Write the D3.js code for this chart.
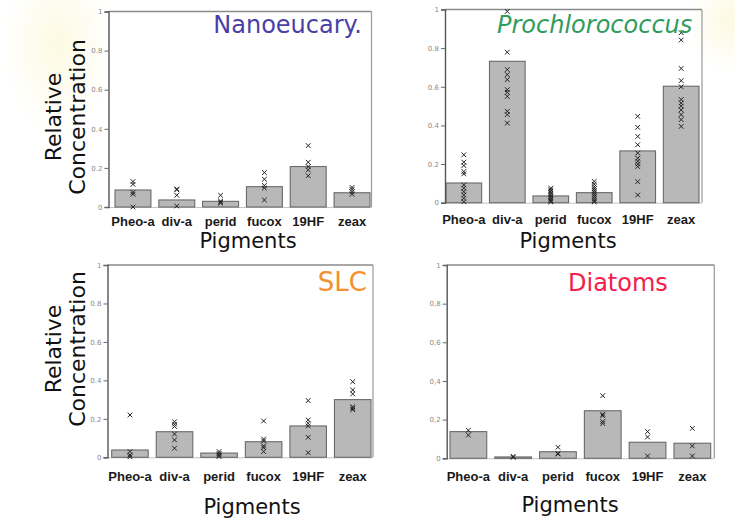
<!DOCTYPE html>
<html>
<head>
<meta charset="utf-8">
<script src="https://cdn.jsdelivr.net/npm/d3@7"></script>
<style>
  html, body { margin: 0; padding: 0; background: #ffffff; }
  svg { display: block; }
</style>
</head>
<body>
<svg id="chart" width="735" height="527"></svg>
<script>
// Pigment categories shared by all four panels
const pigments = ["Pheo-a", "div-a", "perid", "fucox", "19HF", "zeax"];
const yTickValues = [0, 0.2, 0.4, 0.6, 0.8, 1];
const yTickLabelsDot = ["0", "0.2", "0.4", "0.6", "0.8", "1"];
const yTickLabelsComma = ["0", "0,2", "0,4", "0,6", "0,8", "1"];

// Mean relative concentration (bars) and individual samples (crosses)
const nanoMeans = [0.087, 0.036, 0.029, 0.104, 0.207, 0.073];
const nanoSamples = [
  [0.13, 0.116, 0.075, 0.065, 0.0],
  [0.092, 0.088, 0.06, 0.005],
  [0.06, 0.03, 0.025, 0.02],
  [0.176, 0.142, 0.11, 0.097, 0.036],
  [0.314, 0.229, 0.207, 0.19, 0.16],
  [0.1, 0.09, 0.078, 0.065]
];

const prochMeans = [0.102, 0.732, 0.035, 0.052, 0.268, 0.603];
const prochSamples = [
  [0.248, 0.21, 0.192, 0.161, 0.149, 0.092, 0.075, 0.057, 0.04, 0.023, 0.005],
  [0.99, 0.779, 0.689, 0.663, 0.637, 0.585, 0.571, 0.55, 0.473, 0.456, 0.412],
  [0.075, 0.066, 0.058, 0.05, 0.042, 0.034, 0.026, 0.018, 0.01, 0.004],
  [0.11, 0.096, 0.083, 0.072, 0.062, 0.052, 0.042, 0.032, 0.022, 0.012, 0.004],
  [0.447, 0.39, 0.343, 0.3, 0.257, 0.23, 0.215, 0.2, 0.187, 0.109, 0.04],
  [0.88, 0.842, 0.695, 0.632, 0.6, 0.534, 0.516, 0.5, 0.48, 0.456, 0.43, 0.395]
];

const slcMeans = [0.038, 0.133, 0.022, 0.081, 0.163, 0.30];
const slcSamples = [
  [0.22, 0.03, 0.012, 0.003],
  [0.185, 0.172, 0.16, 0.121, 0.09, 0.047],
  [0.03, 0.02, 0.012, 0.004],
  [0.189, 0.095, 0.085, 0.059, 0.05, 0.03],
  [0.295, 0.194, 0.177, 0.163, 0.104, 0.024],
  [0.393, 0.35, 0.33, 0.263, 0.255, 0.247]
];

const diatomMeans = [0.138, 0.007, 0.034, 0.246, 0.083, 0.078];
const diatomSamples = [
  [0.145, 0.12],
  [0.01, 0.005],
  [0.057, 0.025, 0.022],
  [0.324, 0.228, 0.22, 0.19, 0.18],
  [0.138, 0.11, 0.012],
  [0.155, 0.064, 0.012]
];

const panels = [
  { title: "Nanoeucary.", color: "#4a3fa6", italic: false, means: nanoMeans, samples: nanoSamples,
    axisX: 108.5, rightX: 371.5, top: 11.5, zero: 207, bars: [115, 370],
    tickLabels: yTickLabelsDot, titleX: 362, titleY: 33, titleAnchor: "end", titleSize: 24,
    catY: 226, pigX: 248, pigY: 248, yLabel: true, yLabelY: 117 },
  { title: "Prochlorococcus", color: "#2f9c5c", italic: true, means: prochMeans, samples: prochSamples,
    axisX: 445, rightX: 702, top: 9.5, zero: 202.7, bars: [446, 699],
    tickLabels: yTickLabelsDot, titleX: 497, titleY: 33, titleAnchor: "start", titleSize: 24,
    catY: 224, pigX: 568, pigY: 248, yLabel: false },
  { title: "SLC", color: "#f59030", italic: false, means: slcMeans, samples: slcSamples,
    axisX: 107.5, rightX: 373, top: 265, zero: 457.3, bars: [111.7, 371],
    tickLabels: yTickLabelsDot, titleX: 367, titleY: 291, titleAnchor: "end", titleSize: 26,
    catY: 481, pigX: 252, pigY: 514, yLabel: true, yLabelY: 349 },
  { title: "Diatoms", color: "#f2204c", italic: false, means: diatomMeans, samples: diatomSamples,
    axisX: 446.7, rightX: 714.3, top: 265, zero: 458.3, bars: [450, 710.7],
    tickLabels: yTickLabelsComma, titleX: 568, titleY: 291, titleAnchor: "start", titleSize: 24,
    catY: 481, pigX: 570, pigY: 512, yLabel: false }
];

const svg = d3.select("#chart");

// soft slide-background tint in the upper corners
const defs = svg.append("defs");
const tint = defs.append("radialGradient").attr("id", "tint");
tint.append("stop").attr("offset", "0%").attr("stop-color", "#fcf8d8").attr("stop-opacity", 0.75);
tint.append("stop").attr("offset", "100%").attr("stop-color", "#fcf8d8").attr("stop-opacity", 0);
svg.append("ellipse").attr("cx", 58).attr("cy", 45).attr("rx", 55).attr("ry", 90).attr("fill", "url(#tint)");
svg.append("ellipse").attr("cx", 728).attr("cy", 22).attr("rx", 40).attr("ry", 50).attr("fill", "url(#tint)");

// cross marker used for individual samples
const crossType = {
  draw(context, size) {
    const r = Math.sqrt(size) / 2;
    context.moveTo(-r, -r); context.lineTo(r, r);
    context.moveTo(r, -r); context.lineTo(-r, r);
  }
};
const cross = d3.symbol().type(crossType).size(22);

panels.forEach(p => {
  const g = svg.append("g");

  const x = d3.scaleBand().domain(pigments).range(p.bars).paddingInner(0.18).paddingOuter(0);
  const y = d3.scaleLinear().domain([0, 1]).range([p.zero, p.top]);

  // frame: top and right borders, light baseline
  g.append("line").attr("x1", p.axisX).attr("x2", p.rightX).attr("y1", p.top).attr("y2", p.top)
    .attr("stroke", "#8a8a8a").attr("stroke-width", 1.3);
  g.append("line").attr("x1", p.rightX).attr("x2", p.rightX).attr("y1", p.top).attr("y2", p.zero)
    .attr("stroke", "#9a9a9a").attr("stroke-width", 1.2);
  g.append("line").attr("x1", p.axisX).attr("x2", p.rightX).attr("y1", p.zero + 0.5).attr("y2", p.zero + 0.5)
    .attr("stroke", "#c4c4c4").attr("stroke-width", 1);

  // bars
  g.selectAll("rect.bar").data(p.means).join("rect")
    .attr("class", "bar")
    .attr("x", (d, i) => x(pigments[i]))
    .attr("width", x.bandwidth())
    .attr("y", d => y(d))
    .attr("height", d => y(0) - y(d))
    .attr("fill", "#b8b8b8")
    .attr("stroke", "#6a6a6a")
    .attr("stroke-width", 1.1);

  // samples
  const pts = [];
  p.samples.forEach((arr, i) => arr.forEach(v => pts.push({ k: pigments[i], v })));
  g.selectAll("path.pt").data(pts).join("path")
    .attr("class", "pt")
    .attr("d", cross)
    .attr("transform", d => `translate(${x(d.k) + x.bandwidth() / 2},${y(d.v)})`)
    .attr("fill", "none")
    .attr("stroke", "#222")
    .attr("stroke-width", 1);

  // y axis
  const yAxis = d3.axisLeft(y).tickValues(yTickValues).tickSize(4).tickPadding(2)
    .tickFormat((d, i) => p.tickLabels[i]);
  const ya = g.append("g").attr("transform", `translate(${p.axisX},0)`).call(yAxis);
  ya.select(".domain").attr("stroke", "#555").attr("stroke-width", 1.4);
  ya.selectAll(".tick line").attr("stroke", "#666");
  ya.selectAll(".tick text").attr("fill", "#8a8a8a").style("font-family", "DejaVu Sans")
    .style("font-size", "7px");

  // category axis
  const xAxis = d3.axisBottom(x).tickSize(0).tickPadding(0);
  const xa = g.append("g").attr("transform", `translate(0,${p.zero})`).call(xAxis);
  xa.select(".domain").remove();
  xa.selectAll(".tick text")
    .attr("y", p.catY - p.zero).attr("dy", 0)
    .attr("fill", "#1a1a1a")
    .style("font-family", "Liberation Sans").style("font-weight", "bold").style("font-size", "13px");

  // axis titles
  g.append("text").attr("x", p.pigX).attr("y", p.pigY).attr("text-anchor", "middle")
    .style("font-family", "DejaVu Sans").style("font-size", "21px").attr("fill", "#111")
    .text("Pigments");

  if (p.yLabel) {
    g.append("text").attr("transform", `translate(61,${p.yLabelY}) rotate(-90)`)
      .attr("text-anchor", "middle").style("font-family", "DejaVu Sans").style("font-size", "22px")
      .attr("fill", "#111").text("Relative");
    g.append("text").attr("transform", `translate(85,${p.yLabelY}) rotate(-90)`)
      .attr("text-anchor", "middle").style("font-family", "DejaVu Sans").style("font-size", "22px")
      .attr("fill", "#111").text("Concentration");
  }

  // group name
  g.append("text").attr("x", p.titleX).attr("y", p.titleY).attr("text-anchor", p.titleAnchor)
    .style("font-family", "DejaVu Sans").style("font-size", p.titleSize + "px")
    .style("font-style", p.italic ? "italic" : "normal")
    .attr("fill", p.color).text(p.title);
});
</script>
</body>
</html>
